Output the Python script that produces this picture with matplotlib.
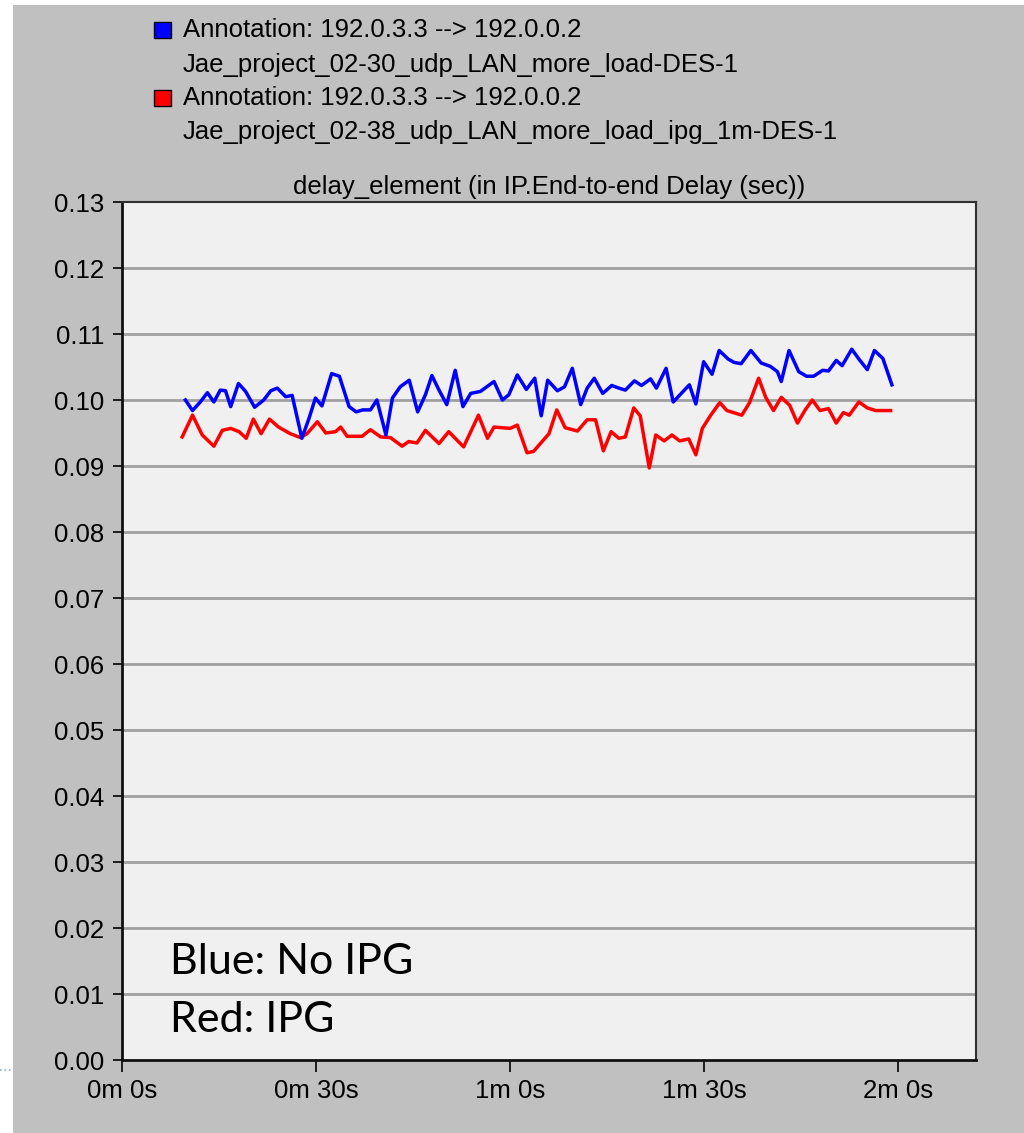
import numpy as np
import matplotlib.pyplot as plt
from matplotlib.patches import Rectangle
from matplotlib.lines import Line2D

# time (s) and end-to-end delay (s)
blue_t = [9.8, 10.9, 12.1, 13.2, 14.2, 15.2, 16.0, 16.8, 18.0, 19.1, 20.5, 21.9, 23.0, 24.0,
          25.3, 26.3, 27.8, 28.9, 29.9, 30.9, 32.4, 33.6, 35.1, 36.2, 37.2, 38.4, 39.4, 40.8,
          41.8, 43.0, 44.4, 45.7, 46.9, 47.9, 49.0, 50.2, 51.5, 52.7, 53.9, 55.4, 57.5, 58.8,
          59.8, 61.1, 62.5, 63.8, 64.8, 65.8, 67.3, 68.4, 69.6, 70.9, 71.9, 73.0, 74.3, 75.7,
          76.8, 77.8, 79.2, 80.3, 81.7, 82.6, 84.1, 85.2, 87.7, 88.7, 89.9, 91.2, 92.3, 93.7,
          94.6, 95.7, 97.2, 98.8, 100.2, 101.3, 101.9, 103.1, 104.6, 105.8, 106.9, 108.3, 109.2,
          110.4, 111.3, 112.8, 113.9, 115.2, 116.3, 117.6, 119.0]
blue_v = [0.1000, 0.0984, 0.0997, 0.1011, 0.0997, 0.1015, 0.1014, 0.0990, 0.1025, 0.1013,
          0.0989, 0.1000, 0.1014, 0.1018, 0.1005, 0.1007, 0.0942, 0.0972, 0.1003, 0.0991,
          0.1040, 0.1036, 0.0990, 0.0982, 0.0985, 0.0985, 0.1000, 0.0947, 0.1003, 0.1020,
          0.1030, 0.0982, 0.1008, 0.1037, 0.1015, 0.0993, 0.1045, 0.0990, 0.1010, 0.1013,
          0.1028, 0.1000, 0.1008, 0.1038, 0.1016, 0.1033, 0.0976, 0.1030, 0.1014, 0.1020,
          0.1048, 0.0993, 0.1018, 0.1033, 0.1010, 0.1022, 0.1018, 0.1015, 0.1029, 0.1022,
          0.1032, 0.1018, 0.1048, 0.0997, 0.1023, 0.0994, 0.1058, 0.1039, 0.1075, 0.1062,
          0.1057, 0.1055, 0.1075, 0.1056, 0.1051, 0.1043, 0.1028, 0.1075, 0.1043, 0.1036,
          0.1036, 0.1045, 0.1044, 0.1060, 0.1052, 0.1077, 0.1062, 0.1046, 0.1075, 0.1063,
          0.1023]

red_t = [9.3, 10.9, 12.4, 14.2, 15.5, 16.8, 18.1, 19.2, 20.3, 21.5, 22.8, 24.2, 26.0, 27.6,
         28.6, 30.2, 31.5, 33.0, 33.8, 34.8, 37.1, 38.4, 40.0, 41.5, 43.3, 44.3, 45.6, 46.9,
         49.0, 50.5, 52.8, 55.1, 56.5, 57.5, 60.0, 61.1, 62.6, 63.6, 66.0, 67.2, 68.5, 70.4,
         71.9, 73.2, 74.4, 75.6, 76.8, 77.8, 79.1, 80.1, 81.5, 82.5, 83.8, 85.0, 86.2, 87.6,
         88.7, 89.7, 91.0, 92.4, 93.5, 95.8, 97.0, 98.4, 99.5, 100.7, 101.9, 103.2, 104.4,
         105.6, 106.7, 107.9, 109.2, 110.4, 111.5, 112.4, 113.9, 115.2, 116.5, 118.8]
red_v = [0.0944, 0.0977, 0.0947, 0.0930, 0.0954, 0.0957, 0.0952, 0.0942, 0.0971, 0.0949,
         0.0971, 0.0959, 0.0949, 0.0943, 0.0949, 0.0967, 0.0950, 0.0952, 0.0959, 0.0945,
         0.0945, 0.0955, 0.0944, 0.0943, 0.0930, 0.0937, 0.0935, 0.0954, 0.0934, 0.0952,
         0.0929, 0.0977, 0.0942, 0.0959, 0.0957, 0.0962, 0.0920, 0.0922, 0.0949, 0.0985,
         0.0958, 0.0953, 0.0970, 0.0970, 0.0923, 0.0952, 0.0942, 0.0944, 0.0988, 0.0976,
         0.0897, 0.0947, 0.0938, 0.0947, 0.0938, 0.0941, 0.0917, 0.0957, 0.0977, 0.0996,
         0.0984, 0.0977, 0.0996, 0.1033, 0.1004, 0.0984, 0.1004, 0.0992, 0.0965, 0.0985,
         0.1000, 0.0984, 0.0987, 0.0965, 0.0981, 0.0977, 0.0997, 0.0988, 0.0984, 0.0984]

x_ticks = [0, 30, 60, 90, 120]
x_labels = ['0m 0s', '0m 30s', '1m 0s', '1m 30s', '2m 0s']
y_ticks = np.arange(0, 0.131, 0.01)

legend_lines = ['Annotation: 192.0.3.3 --> 192.0.0.2',
                'Jae_project_02-30_udp_LAN_more_load-DES-1',
                'Annotation: 192.0.3.3 --> 192.0.0.2',
                'Jae_project_02-38_udp_LAN_more_load_ipg_1m-DES-1']

W, H = 1024, 1133
fig = plt.figure(figsize=(W / 100, H / 100), dpi=100, facecolor='white')
plt.rcParams['font.family'] = ['Liberation Sans', 'DejaVu Sans']
fs = 18.5

# gray window background
fig.add_artist(Rectangle((13 / W, 0), 1 - 13 / W, 1 - 5 / H, transform=fig.transFigure,
                         facecolor='#c0c0c0', edgecolor='none', zorder=-10))
# little dotted slide mark on the left edge
fig.add_artist(Line2D([0, 12 / W], [1 - 1070 / H, 1 - 1070 / H], transform=fig.transFigure,
                      color='#8fb0d8', linestyle=':', linewidth=1.2))

ax = fig.add_axes([122 / W, 1 - 1060 / H, (976 - 122) / W, (1060 - 202) / H])
ax.set_facecolor('#f0f0f0')
ax.set_xlim(0, 132)
ax.set_ylim(0, 0.13)

for y in y_ticks[1:-1]:
    ax.axhline(y, color='#a0a0a0', linewidth=2, zorder=1)

ax.plot(red_t, red_v, color='#ff0000', linewidth=2.5, zorder=3)
ax.plot(blue_t, blue_v, color='#0000ff', linewidth=2.5, zorder=4)

ax.set_yticks(y_ticks)
ax.set_yticklabels([f'{v:.2f}' for v in y_ticks])
ax.set_xticks(x_ticks)
ax.set_xticklabels(x_labels)
ax.tick_params(axis='y', direction='out', length=6.5, width=1.2, labelsize=fs, pad=6.5)
ax.tick_params(axis='x', direction='out', length=8.5, width=1.2, labelsize=fs, pad=5)

for side in ['left', 'bottom']:
    ax.spines[side].set_linewidth(2)
    ax.spines[side].set_color('#101010')
for side in ['top', 'right']:
    ax.spines[side].set_linewidth(1.5)
    ax.spines[side].set_color('#303030')

ax.set_title('delay_element (in IP.End-to-end Delay (sec))', fontsize=fs, pad=6)

# legend block at the top
legend_y = [30, 65, 98, 132]
for txt, yy in zip(legend_lines, legend_y):
    fig.text(183 / W, 1 - yy / H, txt, fontsize=fs, va='center', ha='left')
for yy, col in [(30, '#0000ff'), (98, '#ff0000')]:
    fig.add_artist(Rectangle((154 / W, 1 - (yy + 8) / H), 17 / W, 16 / H,
                             transform=fig.transFigure, facecolor=col,
                             edgecolor='black', linewidth=1))

# slide annotation inside the plot
ax.text(170 / W, 1 - 962 / H, 'Blue: No IPG', transform=fig.transFigure,
        fontsize=31, family=['Lato', 'DejaVu Sans'], va='center', ha='left', zorder=5)
ax.text(170 / W, 1 - 1020 / H, 'Red: IPG', transform=fig.transFigure,
        fontsize=31, family=['Lato', 'DejaVu Sans'], va='center', ha='left', zorder=5)

fig.savefig('out.png', dpi=100, facecolor=fig.get_facecolor())
